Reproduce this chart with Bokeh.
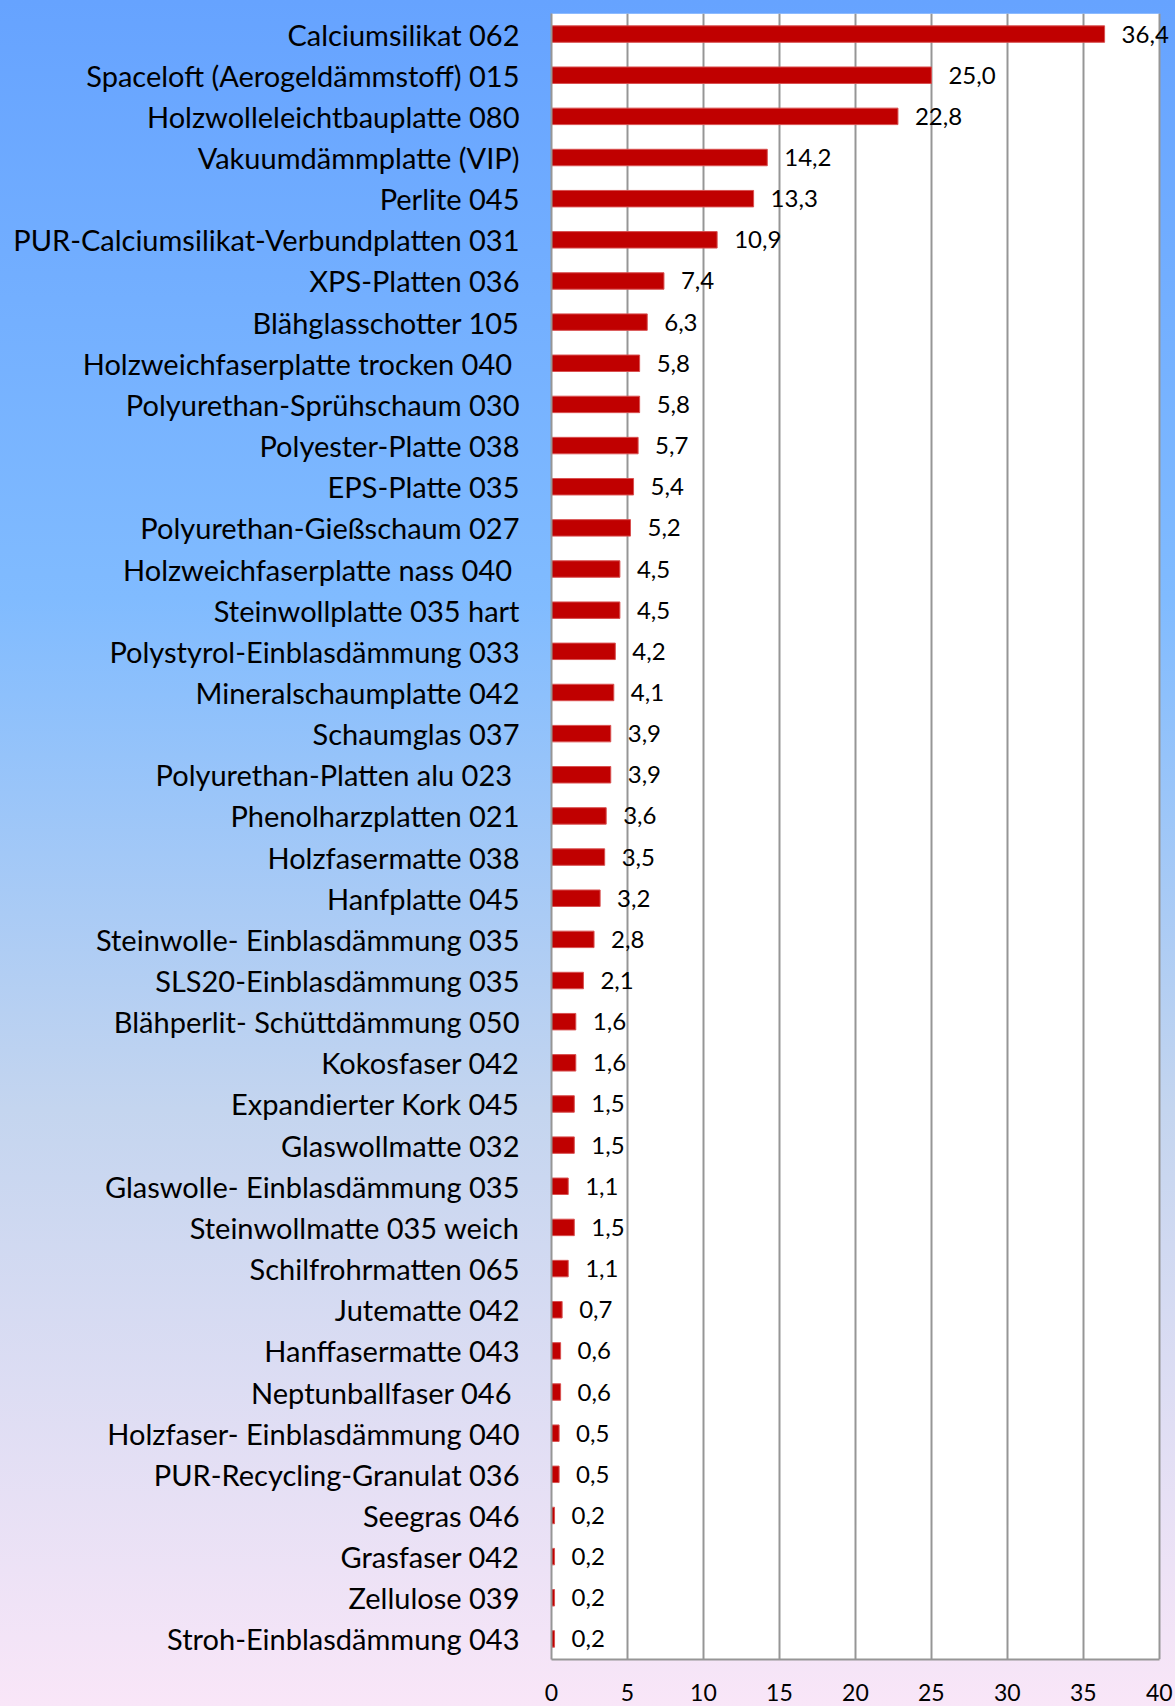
from bokeh.plotting import figure
from bokeh.models import ColumnDataSource, FactorRange, Range1d, LabelSet, FixedTicker, BoxAnnotation
from bokeh.core.properties import value
from bokeh.embed import file_html
from bokeh.resources import INLINE

categories = [
    "Calciumsilikat 062",
    "Spaceloft (Aerogeldämmstoff) 015",
    "Holzwolleleichtbauplatte 080",
    "Vakuumdämmplatte (VIP)",
    "Perlite 045",
    "PUR-Calciumsilikat-Verbundplatten 031",
    "XPS-Platten 036",
    "Blähglasschotter 105",
    "Holzweichfaserplatte trocken 040 ",
    "Polyurethan-Sprühschaum 030",
    "Polyester-Platte 038",
    "EPS-Platte 035",
    "Polyurethan-Gießschaum 027",
    "Holzweichfaserplatte nass 040 ",
    "Steinwollplatte 035 hart",
    "Polystyrol-Einblasdämmung 033",
    "Mineralschaumplatte 042",
    "Schaumglas 037",
    "Polyurethan-Platten alu 023 ",
    "Phenolharzplatten 021",
    "Holzfasermatte 038",
    "Hanfplatte 045",
    "Steinwolle- Einblasdämmung 035",
    "SLS20-Einblasdämmung 035",
    "Blähperlit- Schüttdämmung 050",
    "Kokosfaser 042",
    "Expandierter Kork 045",
    "Glaswollmatte 032",
    "Glaswolle- Einblasdämmung 035",
    "Steinwollmatte 035 weich",
    "Schilfrohrmatten 065",
    "Jutematte 042",
    "Hanffasermatte 043",
    "Neptunballfaser  046",
    "Holzfaser- Einblasdämmung 040",
    "PUR-Recycling-Granulat 036",
    "Seegras 046",
    "Grasfaser 042",
    "Zellulose 039",
    "Stroh-Einblasdämmung 043",
]

values = [
    36.4, 25.0, 22.8, 14.2, 13.3, 10.9, 7.4, 6.3, 5.8, 5.8,
    5.7, 5.4, 5.2, 4.5, 4.5, 4.2, 4.1, 3.9, 3.9, 3.6,
    3.5, 3.2, 2.8, 2.1, 1.6, 1.6, 1.5, 1.5, 1.1, 1.5,
    1.1, 0.7, 0.6, 0.6, 0.5, 0.5, 0.2, 0.2, 0.2, 0.2,
]

x_ticks = [0, 5, 10, 15, 20, 25, 30, 35, 40]

value_labels = [f"{v:.1f}".replace(".", ",") for v in values]

source = ColumnDataSource(data=dict(cat=categories, val=values, txt=value_labels))

x_min, x_max = x_ticks[0], x_ticks[-1]

p = figure(
    width=1175,
    height=1706,
    y_range=FactorRange(factors=categories[::-1], range_padding=0),
    x_range=Range1d(x_min, x_max + 1),   # extra room so the top value label is not clipped
    output_backend="svg",
    toolbar_location=None,
    min_border_left=551,
    min_border_right=1,
    min_border_top=13,
    min_border_bottom=47,
)

p.styles = {
    "background": "linear-gradient(to bottom, #66A3FF 0%, #80BBFF 35%, #C4D5EF 65%, #F9E6F8 100%)"
}
p.border_fill_color = None
p.background_fill_color = None
p.outline_line_color = None

# white plot area only between 0 and 40
plot_area = BoxAnnotation(left=x_min, right=x_max, fill_color="white", fill_alpha=1,
                          line_color=None, level="image")
p.add_layout(plot_area)

p.hbar(y="cat", right="val", height=0.4, left=0, source=source,
       fill_color="#C00000", line_color="#D85050", line_width=1)

labels = LabelSet(x="val", y="cat", text="txt", source=source,
                  x_offset=17, text_baseline="middle", text_align="left",
                  text_font=value("Lato"), text_font_size=value("24px"),
                  text_color="black")
p.add_layout(labels)

# grid
p.ygrid.grid_line_color = None
p.xgrid.ticker = FixedTicker(ticks=x_ticks)
p.xgrid.grid_line_color = "#969696"
p.xgrid.grid_line_width = 2

# x axis
p.xaxis.ticker = FixedTicker(ticks=x_ticks)
p.xaxis.bounds = (x_min, x_max)
p.xaxis.axis_line_color = "#969696"
p.xaxis.axis_line_width = 2
p.xaxis.major_tick_line_color = None
p.xaxis.minor_tick_line_color = None
p.xaxis.major_label_text_font = "Lato"
p.xaxis.major_label_text_font_size = "23px"
p.xaxis.major_label_text_color = "black"
p.xaxis.major_label_standoff = 18

# y axis
p.yaxis.axis_line_color = "#969696"
p.yaxis.axis_line_width = 2
p.yaxis.major_tick_line_color = None
p.yaxis.minor_tick_line_color = None
p.yaxis.major_label_text_font = "Lato"
p.yaxis.major_label_text_font_size = "29px"
p.yaxis.major_label_text_color = "black"
p.yaxis.major_label_standoff = 26

open("out.html", "w").write(file_html(p, INLINE))
